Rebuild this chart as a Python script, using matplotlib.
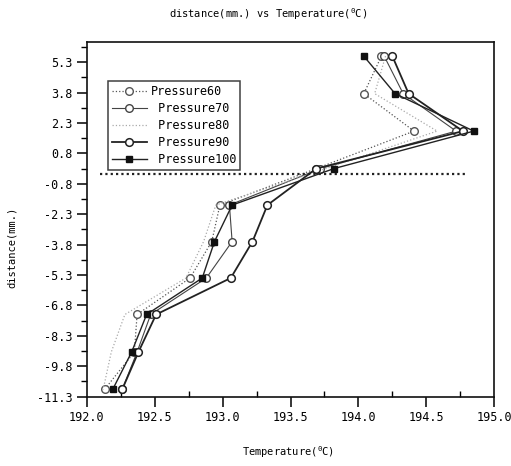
import matplotlib
matplotlib.use("Agg")
import matplotlib.pyplot as plt
from matplotlib.ticker import MultipleLocator, FixedLocator

plt.rcParams['font.family'] = ['DejaVu Sans Mono']
plt.rcParams['mathtext.fontset'] = 'custom'
plt.rcParams['mathtext.rm'] = 'DejaVu Sans Mono'

# distance (mm.) levels, same for every pressure
distance = [5.55, 3.7, 1.85, 0.0, -1.8, -3.6, -5.4, -7.2, -9.05, -10.9]

# temperature readings for each pressure
p60 = [194.17, 194.04, 194.41, 193.69, 192.98, 192.92, 192.76, 192.37, 192.35, 192.13]
p70 = [194.19, 194.33, 194.72, 193.72, 193.05, 193.07, 192.88, 192.47, 192.37, 192.26]
p80 = [194.20, 194.12, 194.58, 193.76, 192.95, 192.86, 192.73, 192.28, 192.18, 192.12]
p90 = [194.25, 194.37, 194.77, 193.69, 193.33, 193.22, 193.06, 192.51, 192.38, 192.26]
p100 = [194.04, 194.27, 194.85, 193.82, 193.07, 192.94, 192.85, 192.44, 192.33, 192.19]

labels = ['Pressure60', ' Pressure70', ' Pressure80', ' Pressure90', ' Pressure100']

# dotted reference line
ref_x = [192.1, 194.8]
ref_y = [-0.25, -0.25]

yticks = [5.25, 3.75, 2.25, 0.75, -0.75, -2.25, -3.75, -5.25, -6.75, -8.25, -9.75, -11.25]
ytick_labels = ['5.3', '3.8', '2.3', '0.8', '-0.8', '-2.3', '-3.8', '-5.3', '-6.8', '-8.3', '-9.8', '-11.3']
xticks = [192.0, 192.5, 193.0, 193.5, 194.0, 194.5, 195.0]

fig = plt.figure(figsize=(5.11, 4.66), dpi=100)
ax = fig.add_axes([0.170, 0.149, 0.797, 0.761])

ax.plot(p60, distance, color='#555555', lw=0.9, ls=':', marker='o', ms=5.5,
        mfc='white', mec='#555555', label=labels[0])
ax.plot(p70, distance, color='#444444', lw=0.8, ls='-', marker='o', ms=5.5,
        mfc='white', mec='#444444', label=labels[1])
ax.plot(p80, distance, color='#aaaaaa', lw=0.9, ls=':', label=labels[2])
ax.plot(p90, distance, color='#222222', lw=1.3, ls='-', marker='o', ms=5.5,
        mfc='white', mec='#222222', mew=1.1, label=labels[3])
ax.plot(p100, distance, color='#222222', lw=1.0, ls='-', marker='s', ms=4.5,
        mfc='#111111', mec='#111111', label=labels[4])

ax.plot(ref_x, ref_y, color='#222222', lw=1.6, ls=(0, (1, 1.4)))

ax.set_xlim(192.0, 195.0)
ax.set_ylim(-11.25, 6.25)
ax.xaxis.set_major_locator(FixedLocator(xticks))
ax.set_xticklabels([f'{v:.1f}' for v in xticks])
ax.xaxis.set_minor_locator(MultipleLocator(0.25))
ax.yaxis.set_major_locator(FixedLocator(yticks))
ax.set_yticklabels(ytick_labels)
ax.yaxis.set_minor_locator(MultipleLocator(0.75))

ax.tick_params(axis='both', which='major', labelsize=8.5, length=7, width=1.1, direction='out')
ax.tick_params(axis='x', which='minor', length=4, width=1.0, direction='in')
ax.tick_params(axis='y', which='minor', length=4, width=1.0, direction='out')
for s in ax.spines.values():
    s.set_linewidth(1.2)
    s.set_color('#111111')

fig.text(268 / 511, 1 - 14 / 466, 'distance(mm.) vs Temperature($^0$C)',
         ha='center', va='center', fontsize=7.5)
fig.text(288 / 511, 1 - 452 / 466, 'Temperature($^0$C)', ha='center', va='center', fontsize=7.5)
fig.text(12 / 511, 219 / 466, 'distance(mm.)', ha='center', va='center',
         rotation=90, fontsize=7.5)

leg = ax.legend(loc='upper left', bbox_to_anchor=(0.052, 0.889), fontsize=8.5,
                frameon=True, fancybox=False, handlelength=3.0, handletextpad=0.3,
                borderpad=0.3, labelspacing=0.35, borderaxespad=0)
leg.get_frame().set_edgecolor('#111111')
leg.get_frame().set_linewidth(1.1)

fig.savefig('out.png', dpi=100)
